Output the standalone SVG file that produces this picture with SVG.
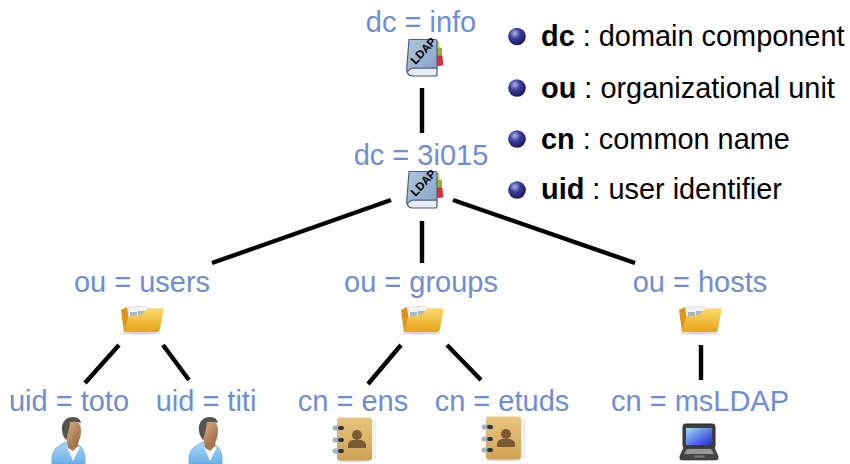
<svg xmlns="http://www.w3.org/2000/svg" width="850" height="464" viewBox="0 0 850 464">
<style>
text{font-family:"Liberation Sans",Arial,sans-serif}
.l{font-size:29px;fill:#6f8dd6;text-anchor:middle}
.k{font-size:28.900px;fill:#000}
.k tspan{font-weight:bold}
.c line{stroke:#000;stroke-width:4.400;fill:none}
</style>
<defs>
<radialGradient id="ball" cx="0.38" cy="0.32" r="0.75"><stop offset="0" stop-color="#b4b4ee"/><stop offset="0.4" stop-color="#3e3e9e"/><stop offset="1" stop-color="#14144e"/></radialGradient>
<linearGradient id="cover" x1="0" y1="0" x2="1" y2="1"><stop offset="0" stop-color="#b0c6de"/><stop offset="1" stop-color="#86a2c6"/></linearGradient>
<linearGradient id="fold" x1="0" y1="0" x2="0" y2="1"><stop offset="0" stop-color="#fbd970"/><stop offset="1" stop-color="#e6a416"/></linearGradient>
<linearGradient id="skin" x1="0" y1="0" x2="1" y2="1"><stop offset="0" stop-color="#e4b68e"/><stop offset="1" stop-color="#95623c"/></linearGradient>
<linearGradient id="shirt" x1="0" y1="0" x2="0" y2="1"><stop offset="0" stop-color="#a8d6f6"/><stop offset="1" stop-color="#6cb0ea"/></linearGradient>
<linearGradient id="abookfill" x1="0" y1="0" x2="0" y2="1"><stop offset="0" stop-color="#e8c67e"/><stop offset="1" stop-color="#cfa252"/></linearGradient>
<linearGradient id="screen" x1="0" y1="0" x2="1" y2="1"><stop offset="0" stop-color="#9fdcfa"/><stop offset="1" stop-color="#2428d0"/></linearGradient>
<symbol id="book" width="38" height="38" viewBox="0 0 38 38" overflow="visible">
<path d="M30 2l3 0 1 8h-3z" fill="#e2cf48"/><path d="M31 9h3l2 0 0 8h-5z" fill="#9fae3c"/><path d="M31 17h5l1 9-6 1z" fill="#dc2e36" stroke="#a01c22" stroke-width=".5"/>
<path d="M1 31q0 6 6 6h22q2 0 2-2v-6H7z" fill="#e8edf3" stroke="#4a5a78" stroke-width="1.200"/>
<path d="M3 .500h26q2 0 2 2V29H8q-4 0-6.500 4Q.5 32 .8 29z" fill="url(#cover)" stroke="#4f6284" stroke-width="1.200"/>
<text x="0" y="0" transform="translate(9.500 26) rotate(-47)" font-size="11.500" font-weight="bold" fill="#000">LDAP</text>
</symbol>
<symbol id="folder" width="44" height="30" viewBox="0 0 44 30" overflow="visible">
<ellipse cx="21" cy="28.200" rx="20" ry="1.500" fill="#d8d8d8"/>
<path d="M1 5 7 2 10 20 4 27z" fill="#e0921a"/>
<path d="M8 2 25 1 31 4 33 14 9 20z" fill="#f3f3f3" stroke="#cfd3d8" stroke-width=".5"/>
<path d="M10 7h7v4h-7zM18 6h9v4h-9z" fill="#a4b8c8"/>
<path d="M8.300 11 Q18 11 22 9 Q26 4 30 3.300 H42 q2 0 1.500 2 L39.500 26 q-.5 1-2 1 H4z" fill="url(#fold)"/>
</symbol>
<symbol id="user" width="37" height="46" viewBox="0 0 37 46" overflow="visible">
<path d="M0 46q-1-11 4-16l9-6 10 0 6 5q5 5 4 17z" fill="url(#shirt)" stroke="#5a9ad4" stroke-width=".6"/>
<path d="M15 29l13 0-7 14z" fill="#f6f8fa"/>
<path d="M15 20l1 10 5 3 5-5 1-9z" fill="#a8774e"/>
<path d="M12 10q-1 8 3 13 5 5 9 3 5-4 5-14 0-9-8-9-8 0-9 7z" fill="url(#skin)"/>
<path d="M14 22Q9 16 10 8 12-1 21-1q7 0 8 6-6-2-11-1-1 8-2 11z" fill="#55534f"/>
</symbol>
<symbol id="abook" width="44" height="46" viewBox="0 0 44 46" overflow="visible">
<rect x="38" y="4" width="6" height="37" fill="#f4f4f0" stroke="#e4e4de" stroke-width=".6"/>
<ellipse cx="22" cy="44" rx="17" ry="1.300" fill="#ddd"/>
<rect x="5" y="0.500" width="35" height="43" rx="3" fill="url(#abookfill)"/>
<circle cx="25" cy="18" r="5" fill="#7a5a34"/>
<path d="M16 31v-3q0-4 5-5h8q5 1 5 5v3z" fill="#7a5a34"/>
<g fill="none" stroke-linecap="round"><path d="M3 11h6M3 23h6M3 34h6" stroke="#a4b4bc" stroke-width="5"/><path d="M8 11h2M8 23h2M8 34h2" stroke="#333" stroke-width="4"/></g>
</symbol>
<symbol id="laptop" width="38" height="37" viewBox="0 0 38 37" overflow="visible">
<rect x="2" y="0" width="32" height="24" rx="2.500" fill="#3f3f3f" stroke="#282828"/>
<rect x="5" y="4" width="26" height="17" fill="url(#screen)"/>
<path d="M3 23h30l4 9q1 4-2 4H1q-3 0-2-4z" fill="#454545" stroke="#282828" stroke-width=".6"/>
<path d="M6 25h24l3 5H3z" fill="#979797"/><rect x="13" y="31" width="11" height="3" fill="#777" stroke="#282828" stroke-width=".5"/>
</symbol>
</defs>
<g id="connectors" class="c">
<line x1="422" y1="88" x2="422" y2="133"/>
<line x1="391" y1="200" x2="212" y2="263"/>
<line x1="422" y1="221" x2="422" y2="263"/>
<line x1="453" y1="200" x2="635" y2="263"/>
<line x1="119" y1="345" x2="85" y2="383"/>
<line x1="163" y1="345" x2="189" y2="380"/>
<line x1="401" y1="345" x2="368" y2="384"/>
<line x1="447" y1="345" x2="481" y2="380"/>
<line x1="701" y1="345" x2="701" y2="380"/>
</g>
<g id="dc-info"><text class="l" x="421" y="32">dc = info</text><use href="#book" x="406" y="39"/></g>
<g id="dc-3i015"><text class="l" x="421" y="165">dc = 3i015</text><use href="#book" x="406" y="171"/></g>
<g id="ou-users"><text class="l" x="142" y="292">ou = users</text><use href="#folder" x="120" y="305"/></g>
<g id="ou-groups"><text class="l" x="421" y="292">ou = groups</text><use href="#folder" x="400" y="305"/></g>
<g id="ou-hosts"><text class="l" x="700" y="292">ou = hosts</text><use href="#folder" x="678" y="305"/></g>
<g id="uid-toto"><text class="l" x="69" y="411">uid = toto</text><use href="#user" x="52" y="418"/></g>
<g id="uid-titi"><text class="l" x="206" y="411">uid = titi</text><use href="#user" x="189" y="418"/></g>
<g id="cn-ens"><text class="l" x="353" y="411">cn = ens</text><use href="#abook" x="332" y="417"/></g>
<g id="cn-etuds"><text class="l" x="502" y="411">cn = etuds</text><use href="#abook" x="481" y="416"/></g>
<g id="cn-msLDAP"><text class="l" x="700" y="411">cn = msLDAP</text><use href="#laptop" x="681" y="424"/></g>
<g id="legend">
<circle cx="517" cy="36.500" r="8.800" fill="url(#ball)"/><text class="k" x="541" y="46"><tspan>dc</tspan> : domain component</text>
<circle cx="517" cy="88" r="8.800" fill="url(#ball)"/><text class="k" x="541" y="98"><tspan>ou</tspan> : organizational unit</text>
<circle cx="517" cy="139" r="8.800" fill="url(#ball)"/><text class="k" x="541" y="149"><tspan>cn</tspan> : common name</text>
<circle cx="517" cy="190" r="8.800" fill="url(#ball)"/><text class="k" x="541" y="199"><tspan>uid</tspan> : user identifier</text>
</g>
</svg>
